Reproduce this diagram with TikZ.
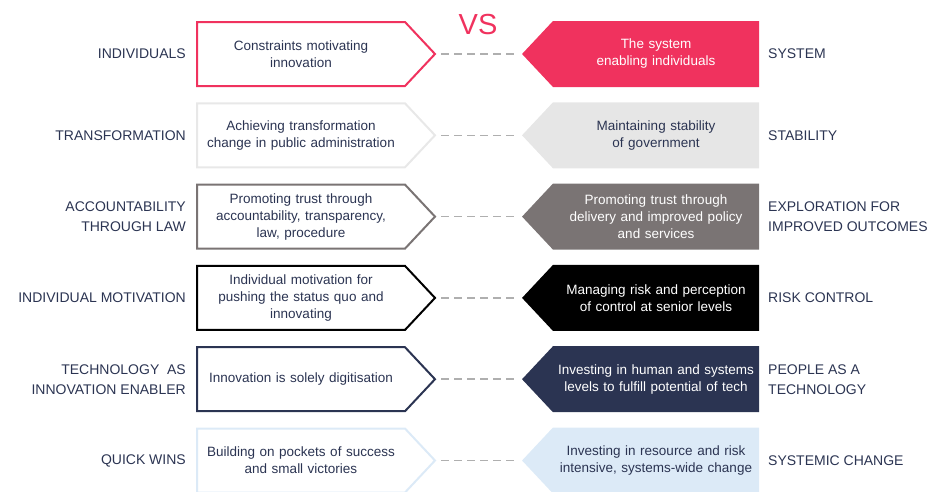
\documentclass[tikz,border=0pt]{standalone}
\usepackage{fontspec}
\setmainfont{Liberation Sans}
\usetikzlibrary{shapes.symbols}
\definecolor{vspink}{HTML}{F0325E}
\definecolor{inkblue}{HTML}{2B3452}
\definecolor{warmgray}{HTML}{7A7474}
\definecolor{palegray}{HTML}{E6E6E6}
\definecolor{paleedge}{HTML}{E8E8E8}
\definecolor{paleblue}{HTML}{DCEAF7}
\definecolor{dashgray}{HTML}{AFAFAF}
\begin{document}
\begin{tikzpicture}[x=1pt,y=-1pt,
    leftbox/.style={signal,signal to=east,signal pointer angle=93.7,
        minimum width=238pt,minimum height=64pt,inner sep=0pt,
        text width=200pt,align=center,line width=2pt,fill=white,
        text=inkblue,font=\fontsize{13.5}{17}\selectfont},
    rightbox/.style={signal,signal to=west,signal pointer angle=93.7,
        minimum width=237pt,minimum height=66pt,inner sep=0pt,
        text width=200pt,align=center,draw=none,
        font=\fontsize{13.5}{17}\selectfont},
    sidelabel/.style={text=inkblue,inner sep=0pt,font=\fontsize{14}{20}\selectfont},
    dashline/.style={dashgray,line width=1.6pt,dash pattern=on 8pt off 5pt}]
    \useasboundingbox (0,0) rectangle (928,491);
    \node[text=vspink,font=\fontsize{29}{29}\selectfont] (vs) at (478,25) {VS};
    %% row 1
    \node[sidelabel,anchor=east,align=right] (ll1) at (186,54) {INDIVIDUALS};
    \node[leftbox,draw=vspink] (l1) at (301,54) {Constraints motivating\\innovation};
    \node[rightbox,fill=vspink,text=white] (r1) at (656,54) {The system\\enabling individuals};
    \node[sidelabel,anchor=west,align=left] (rl1) at (768,54) {SYSTEM};
    \draw[dashline] ([xshift=5pt]l1.east) -- ([xshift=-3pt]r1.west);
    %% row 2
    \node[sidelabel,anchor=east,align=right] (ll2) at (186,135.3) {TRANSFORMATION};
    \node[leftbox,draw=paleedge] (l2) at (301,135.3) {Achieving transformation\\change in public administration};
    \node[rightbox,fill=palegray,text=inkblue] (r2) at (656,135.3) {Maintaining stability\\of government};
    \node[sidelabel,anchor=west,align=left] (rl2) at (768,135.3) {STABILITY};
    \draw[dashline] ([xshift=5pt]l2.east) -- ([xshift=-3pt]r2.west);
    %% row 3
    \node[sidelabel,anchor=east,align=right] (ll3) at (186,216.6) {ACCOUNTABILITY\\THROUGH LAW};
    \node[leftbox,draw=warmgray] (l3) at (301,216.6) {Promoting trust through\\accountability, transparency,\\law, procedure};
    \node[rightbox,fill=warmgray,text=white] (r3) at (656,216.6) {Promoting trust through\\delivery and improved policy\\and services};
    \node[sidelabel,anchor=west,align=left] (rl3) at (768,216.6) {EXPLORATION FOR\\IMPROVED OUTCOMES};
    \draw[dashline] ([xshift=5pt]l3.east) -- ([xshift=-3pt]r3.west);
    %% row 4
    \node[sidelabel,anchor=east,align=right] (ll4) at (186,297.9) {INDIVIDUAL MOTIVATION};
    \node[leftbox,draw=black] (l4) at (301,297.9) {Individual motivation for\\pushing the status quo and\\innovating};
    \node[rightbox,fill=black,text=white] (r4) at (656,297.9) {Managing risk and perception\\of control at senior levels};
    \node[sidelabel,anchor=west,align=left] (rl4) at (768,297.9) {RISK CONTROL};
    \draw[dashline] ([xshift=5pt]l4.east) -- ([xshift=-3pt]r4.west);
    %% row 5
    \node[sidelabel,anchor=east,align=right] (ll5) at (186,379.2) {TECHNOLOGY\ \ AS\\INNOVATION ENABLER};
    \node[leftbox,draw=inkblue] (l5) at (301,379.2) {Innovation is solely digitisation};
    \node[rightbox,fill=inkblue,text=white] (r5) at (656,379.2) {Investing in human and systems\\levels to fulfill potential of tech};
    \node[sidelabel,anchor=west,align=left] (rl5) at (768,379.2) {PEOPLE AS A\\TECHNOLOGY};
    \draw[dashline] ([xshift=5pt]l5.east) -- ([xshift=-3pt]r5.west);
    %% row 6
    \node[sidelabel,anchor=east,align=right] (ll6) at (186,460.5) {QUICK WINS};
    \node[leftbox,draw=paleblue] (l6) at (301,460.5) {Building on pockets of success\\and small victories};
    \node[rightbox,fill=paleblue,text=inkblue] (r6) at (656,460.5) {Investing in resource and risk\\intensive, systems-wide change};
    \node[sidelabel,anchor=west,align=left] (rl6) at (768,460.5) {SYSTEMIC CHANGE};
    \draw[dashline] ([xshift=5pt]l6.east) -- ([xshift=-3pt]r6.west);
\end{tikzpicture}
\end{document}
